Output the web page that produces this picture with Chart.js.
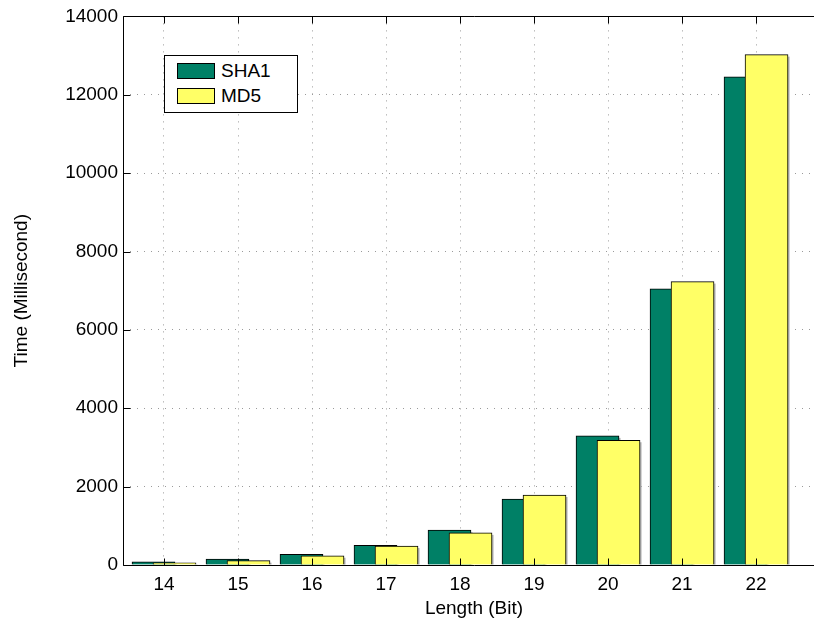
<!DOCTYPE html>
<html>
<head>
<meta charset="utf-8">
<script src="https://cdn.jsdelivr.net/npm/chart.js@4.4.0/dist/chart.umd.min.js"></script>
<style>
  html, body { margin: 0; padding: 0; background: #fff; overflow: hidden; }
  #wrap { position: relative; width: 840px; height: 633px; }
  #legend { position: absolute; left: 164px; top: 55px; width: 134px; height: 58px; box-sizing: border-box;
    border: 1px solid #000; background: #fff; font-family: "Liberation Sans", Arial, sans-serif; font-size: 19px; color: #000; }
  #legend .row { position: absolute; left: 12px; display: flex; align-items: center; }
  #legend .sw { width: 38px; height: 16px; box-sizing: border-box; border: 1px solid #000; margin-right: 6px; }
</style>
</head>
<body>
<div id="wrap">
  <canvas id="chart" width="840" height="633"></canvas>
  <div id="legend"></div>
</div>
<script>
const lengths = [14, 15, 16, 17, 18, 19, 20, 21, 22];
const sha1 = [84, 152, 271, 500, 889, 1684, 3295, 7046, 12457];
const md5 = [58, 110, 237, 483, 820, 1786, 3184, 7233, 13025];
const yTicks = [0, 2000, 4000, 6000, 8000, 10000, 12000, 14000];

const FONT = { family: '"Liberation Sans", Arial, sans-serif', size: 19 };
const GREEN = 'rgb(0,128,102)';
const YELLOW = 'rgb(255,255,102)';
const SHIFT = 0.142; // half-overlapping bars within a group

// gray drop edge on the right of each bar, like the matlab export
const barShadow = {
  id: 'barShadow',
  beforeDatasetDraw(chart, args) {
    const ctx = chart.ctx;
    ctx.save();
    ctx.fillStyle = '#b0b0b0';
    args.meta.data.forEach(el => {
      const p = el.getProps(['x', 'y', 'base', 'width'], true);
      ctx.fillRect(p.x + p.width / 2, p.y + 2, 1.5, p.base - p.y - 2);
    });
    ctx.restore();
  }
};

// axes lines (top, left, bottom) + inward tick marks
const frameTicks = {
  id: 'frameTicks',
  afterDatasetsDraw(chart) {
    const { ctx, chartArea: a, scales: { x, y } } = chart;
    const L = Math.round(a.left) + 0.5, T = Math.round(a.top) + 0.5, B = Math.round(a.bottom) + 0.5;
    ctx.save();
    ctx.strokeStyle = '#000';
    ctx.lineWidth = 1;
    ctx.beginPath();
    x.ticks.forEach(t => {
      const px = Math.round(x.getPixelForValue(t.value)) + 0.5;
      ctx.moveTo(px, B); ctx.lineTo(px, B - 7);
      ctx.moveTo(px, T); ctx.lineTo(px, T + 7);
    });
    y.ticks.forEach(t => {
      const py = Math.round(y.getPixelForValue(t.value)) + 0.5;
      ctx.moveTo(L, py); ctx.lineTo(L + 7, py);
    });
    ctx.moveTo(a.right, T); ctx.lineTo(L, T); ctx.lineTo(L, B); ctx.lineTo(a.right, B);
    ctx.stroke();
    ctx.restore();
  }
};

const htmlLegend = {
  id: 'htmlLegend',
  afterUpdate(chart) {
    const box = document.getElementById('legend');
    box.innerHTML = '';
    chart.data.datasets.forEach((ds, i) => {
      const row = document.createElement('div');
      row.className = 'row';
      row.style.top = (i === 0 ? 4 : 29) + 'px';
      const sw = document.createElement('span');
      sw.className = 'sw';
      sw.style.background = ds.backgroundColor;
      const txt = document.createElement('span');
      txt.textContent = ds.label;
      row.appendChild(sw);
      row.appendChild(txt);
      box.appendChild(row);
    });
  }
};

new Chart(document.getElementById('chart'), {
  type: 'bar',
  data: {
    datasets: [
      { label: 'SHA1', data: lengths.map((l, i) => ({ x: l - SHIFT, y: sha1[i] })),
        backgroundColor: GREEN, borderColor: '#000', borderWidth: 1, barThickness: 43, grouped: false, order: 1 },
      { label: 'MD5', data: lengths.map((l, i) => ({ x: l + SHIFT, y: md5[i] })),
        backgroundColor: YELLOW, borderColor: '#000', borderWidth: 1, barThickness: 43, grouped: false, order: 0 }
    ]
  },
  options: {
    responsive: false,
    animation: false,
    layout: { padding: { top: 14, right: 15, left: 0, bottom: 0 } },
    plugins: { legend: { display: false }, tooltip: { enabled: false } },
    scales: {
      x: {
        type: 'linear',
        offset: false,
        min: 13.446, max: 22.932,
        afterBuildTicks: s => { s.ticks = lengths.map(v => ({ value: v })); },
        afterFit: s => { s.height = 68; },
        grid: { offset: false, color: '#9a9a9a', lineWidth: 1, drawTicks: false },
        border: { display: false, dash: [1, 6] },
        ticks: { color: '#000', font: FONT, padding: 8, callback: v => String(v) },
        title: { display: true, text: 'Length (Bit)', color: '#000', font: FONT, padding: { top: 0, bottom: 13 } }
      },
      y: {
        min: 0, max: 14000,
        afterBuildTicks: s => { s.ticks = yTicks.map(v => ({ value: v })); },
        afterFit: s => { s.width = 123; },
        grid: { color: '#9a9a9a', lineWidth: 1, drawTicks: false },
        border: { display: false, dash: [1, 6] },
        ticks: { color: '#000', font: FONT, padding: 5, callback: v => String(v) },
        title: { display: true, text: 'Time (Millisecond)', color: '#000', font: FONT, padding: { top: 10, bottom: 0 } }
      }
    }
  },
  plugins: [barShadow, frameTicks, htmlLegend]
});
</script>
</body>
</html>
